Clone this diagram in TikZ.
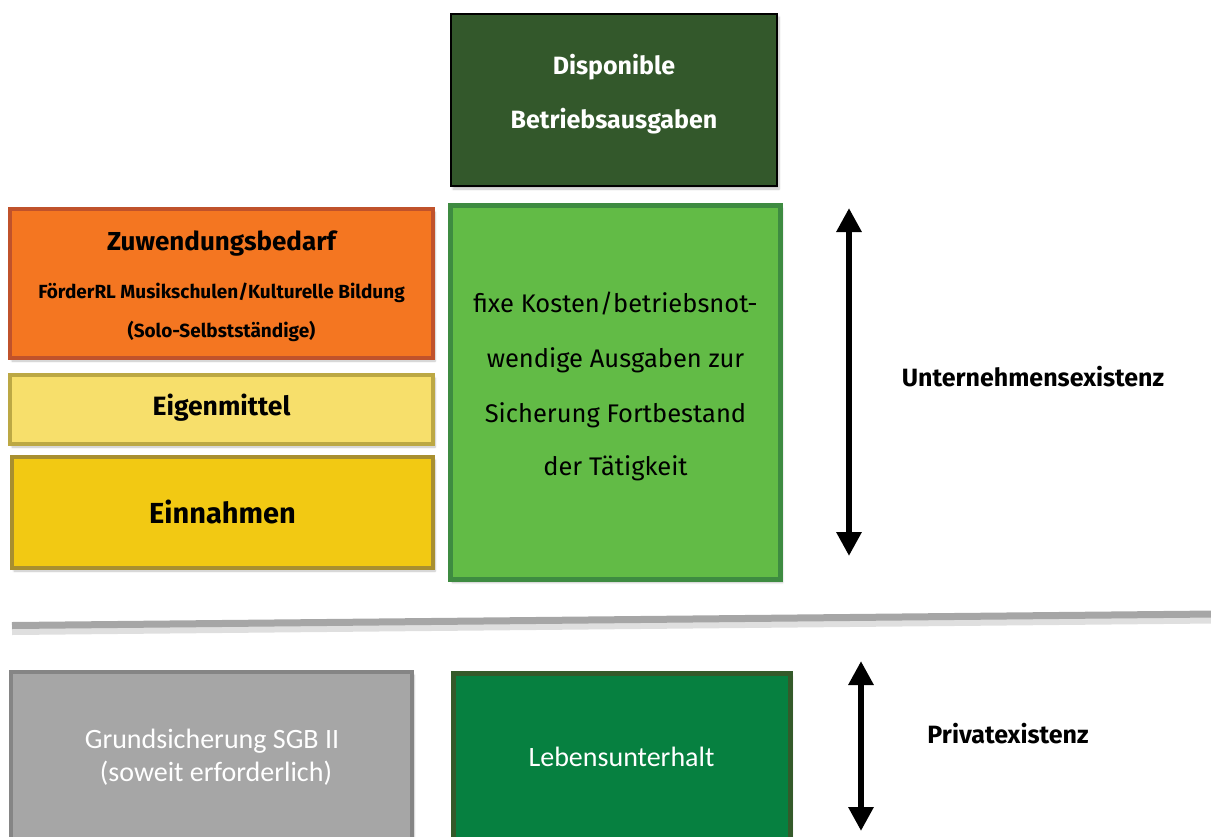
\documentclass[tikz,border=0pt]{standalone}
\usepackage{fontspec}
\setmainfont{Fira Sans}
\newfontfamily\calfont{Carlito}
\usetikzlibrary{arrows.meta,shadows.blur}
\definecolor{topgreen}{HTML}{33582B}
\definecolor{orfill}{HTML}{F47621}
\definecolor{ordraw}{HTML}{C0522B}
\definecolor{eigfill}{HTML}{F7DF6B}
\definecolor{eigdraw}{HTML}{BCA844}
\definecolor{einfill}{HTML}{F2C913}
\definecolor{eindraw}{HTML}{A88F30}
\definecolor{fixfill}{HTML}{62BB46}
\definecolor{fixdraw}{HTML}{3E8B41}
\definecolor{grfill}{HTML}{A6A6A6}
\definecolor{grdraw}{HTML}{858585}
\definecolor{lebfill}{HTML}{068040}
\definecolor{lebdraw}{HTML}{345A2A}
\definecolor{sepcol}{HTML}{A6A6A6}
\begin{document}
\begin{tikzpicture}[x=1pt,y=-1pt,
  box/.style={rectangle,inner sep=0pt,outer sep=0pt,
    blur shadow={shadow xshift=2pt,shadow yshift=-3pt,shadow opacity=25,shadow blur steps=6}},
  txt/.style={anchor=base,inner sep=0pt},
  bigarrow/.style={{Triangle[width=24pt,length=24pt]}-{Triangle[width=24pt,length=24pt]},line width=6pt,black},
  fbig/.style={font=\bfseries\fontsize{25}{30}\selectfont},
  fmid/.style={font=\bfseries\fontsize{19}{23}\selectfont},
  freg/.style={font=\fontsize{25.5}{30}\selectfont},
  fcal/.style={font=\calfont\fontsize{28}{33}\selectfont,text=white}]
\useasboundingbox (0,0) rectangle (1211,836);

% top box
\node[box,fill=topgreen,draw=black,line width=2pt,minimum width=326pt,minimum height=172pt] (disp) at (614,100) {};
\node[txt,fbig,text=white] (disp1) at (614,74) {Disponible};
\node[txt,fbig,text=white] (disp2) at (614,128) {Betriebsausgaben};

% Zuwendungsbedarf
\node[box,fill=orfill,draw=ordraw,line width=4pt,minimum width=423pt,minimum height=149pt] (zuw) at (221.5,283.5) {};
\node[txt,font=\bfseries\fontsize{26}{31}\selectfont] (zuw1) at (221.5,250) {Zuwendungsbedarf};
\node[txt,fmid] (zuw2) at (221.5,298) {FörderRL Musikschulen/Kulturelle Bildung};
\node[txt,fmid] (zuw3) at (221.5,337) {(Solo-Selbstständige)};

% Eigenmittel
\node[box,fill=eigfill,draw=eigdraw,line width=4pt,minimum width=423pt,minimum height=69pt] (eig) at (221.5,409.5) {};
\node[txt,font=\bfseries\fontsize{26.5}{31}\selectfont] (eig1) at (221.5,415) {Eigenmittel};

% Einnahmen
\node[box,fill=einfill,draw=eindraw,line width=4pt,minimum width=421pt,minimum height=111pt] (ein) at (222.5,512.5) {};
\node[txt,font=\bfseries\fontsize{29}{34}\selectfont] (ein1) at (222.5,523) {Einnahmen};

% fixe Kosten
\node[box,fill=fixfill,draw=fixdraw,line width=5pt,minimum width=330pt,minimum height=374pt] (fix) at (615.5,392.5) {};
\node[txt,freg] (fix1) at (615.5,312) {fixe Kosten/betriebsnot-};
\node[txt,freg] (fix2) at (615.5,367) {wendige Ausgaben zur};
\node[txt,freg] (fix3) at (615.5,422) {Sicherung Fortbestand};
\node[txt,freg] (fix4) at (615.5,475) {der Tätigkeit};

% arrow 1 and label
\coordinate (u1) at (849,208);
\coordinate (u2) at (849,556);
\draw[bigarrow] (u1) -- (u2);
\node[txt,font=\bfseries\fontsize{25}{30}\selectfont] (unt) at (1033,386) {Unternehmensexistenz};

% separator
\coordinate (s1) at (12,625.5);
\coordinate (s2) at (1215,614);
\draw[line width=9pt,black!25,opacity=0.5] ([yshift=-5pt]s1) -- ([yshift=-5pt]s2);
\draw[line width=7pt,sepcol] (s1) -- (s2);

% bottom boxes
\node[box,fill=grfill,draw=grdraw,line width=4pt,minimum width=401pt,minimum height=180pt] (gru) at (211.5,762) {};
\node[txt,fcal] (gru1) at (212,748) {Grundsicherung SGB II};
\node[txt,fcal] (gru2) at (216,781) {(soweit erforderlich)};

\node[box,fill=lebfill,draw=lebdraw,line width=5pt,minimum width=337pt,minimum height=180pt] (leb) at (621.5,763.5) {};
\node[txt,fcal] (leb1) at (621.5,766) {Lebensunterhalt};

% arrow 2 and label
\coordinate (p1) at (861,661);
\coordinate (p2) at (861,831);
\draw[bigarrow] (p1) -- (p2);
\node[txt,font=\bfseries\fontsize{25}{30}\selectfont] (pri) at (1008,743) {Privatexistenz};
\end{tikzpicture}
\end{document}
